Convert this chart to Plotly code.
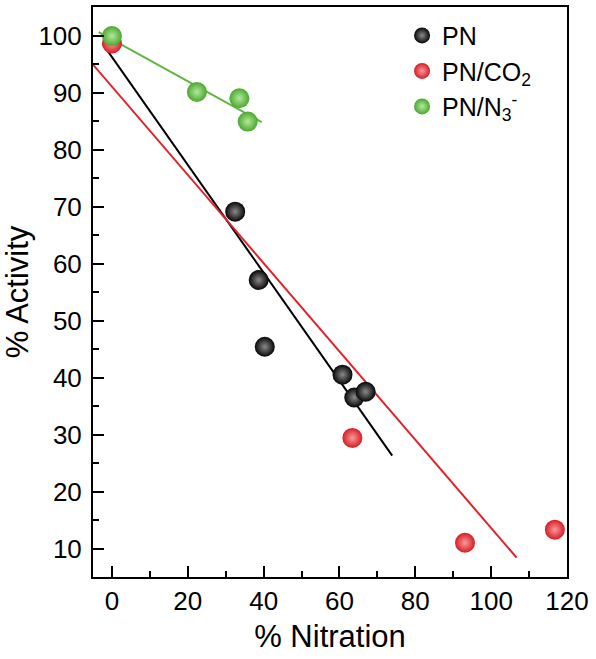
import plotly.graph_objects as go

# Data
pn_x = [32.5, 38.7, 40.3, 60.8, 63.9, 66.9]
pn_y = [69.1, 57.1, 45.4, 40.5, 36.5, 37.5]

co2_x = [0.0, 63.4, 93.1, 116.8]
co2_y = [98.6, 29.4, 11.0, 13.3]

n3_x = [0.0, 22.4, 33.6, 35.8]
n3_y = [99.9, 90.1, 89.0, 84.9]

# Linear fit lines (endpoints)
pn_fit_x = [-2.4, 73.9]
pn_fit_y = [98.5, 26.3]
co2_fit_x = [-5.0, 106.7]
co2_fit_y = [94.9, 8.4]
n3_fit_x = [-3.5, 39.5]
n3_fit_y = [100.6, 84.8]

x_ticks = [0, 20, 40, 60, 80, 100, 120]
y_ticks = [10, 20, 30, 40, 50, 60, 70, 80, 90, 100]

FONT = "Liberation Sans, Arial, sans-serif"

fig = go.Figure()

fig.add_trace(go.Scatter(x=pn_fit_x, y=pn_fit_y, mode="lines",
                         line=dict(color="#000000", width=2), showlegend=False, hoverinfo="skip"))
fig.add_trace(go.Scatter(x=co2_fit_x, y=co2_fit_y, mode="lines",
                         line=dict(color="#e0232b", width=2), showlegend=False, hoverinfo="skip"))
fig.add_trace(go.Scatter(x=n3_fit_x, y=n3_fit_y, mode="lines",
                         line=dict(color="#5cb83f", width=2), showlegend=False, hoverinfo="skip"))

fig.add_trace(go.Scatter(x=pn_x, y=pn_y, mode="markers", name="PN",
                         marker=dict(size=20, color="#050505",
                                     gradient=dict(type="radial", color="#8a8a8a"),
                                     line=dict(width=0))))
fig.add_trace(go.Scatter(x=co2_x, y=co2_y, mode="markers", name="PN/CO<sub>2</sub>",
                         marker=dict(size=20, color="#d81c24",
                                     gradient=dict(type="radial", color="#f79a9a"),
                                     line=dict(width=0))))
fig.add_trace(go.Scatter(x=n3_x, y=n3_y, mode="markers", name="PN/N<sub>3</sub><sup>-</sup>",
                         marker=dict(size=20, color="#4aa82e",
                                     gradient=dict(type="radial", color="#b4e89e"),
                                     line=dict(width=0))))

fig.update_layout(
    width=596, height=659,
    margin=dict(l=93, r=29, t=7, b=82),
    paper_bgcolor="white", plot_bgcolor="white",
    font=dict(family=FONT, color="#000000", size=25),
    legend=dict(x=0.652, y=0.99, xanchor="left", yanchor="top",
                bgcolor="rgba(0,0,0,0)", borderwidth=0,
                font=dict(size=25, family=FONT), tracegroupgap=4),
    showlegend=True,
)

fig.update_xaxes(range=[-5, 120], tickvals=x_ticks, ticktext=[str(v) for v in x_ticks],
                 automargin=False,
                 showline=True, linecolor="#000", linewidth=2, mirror=True,
                 ticks="inside", ticklen=11, tickwidth=2, tickcolor="#000",
                 minor=dict(dtick=10, tick0=0, ticks="inside", ticklen=6, tickwidth=2, tickcolor="#000"),
                 showgrid=False, zeroline=False,
                 tickfont=dict(size=26, family=FONT), ticklabelstandoff=0,
                 title=dict(text="% Nitration", font=dict(size=31, family=FONT), standoff=10))
fig.update_yaxes(range=[5, 105], tickvals=y_ticks, ticktext=[str(v) for v in y_ticks],
                 automargin=False,
                 showline=True, linecolor="#000", linewidth=2, mirror=True,
                 ticks="inside", ticklen=11, tickwidth=2, tickcolor="#000",
                 minor=dict(dtick=5, tick0=0, ticks="inside", ticklen=6, tickwidth=2, tickcolor="#000"),
                 showgrid=False, zeroline=False,
                 tickfont=dict(size=26, family=FONT), ticklabelstandoff=4,
                 title=dict(text="% Activity", font=dict(size=31, family=FONT), standoff=8))

fig.write_html("out.html",
               config={"displayModeBar": False},
               post_script="document.body.style.margin='0';document.body.style.padding='0';document.body.style.overflow='hidden';")
